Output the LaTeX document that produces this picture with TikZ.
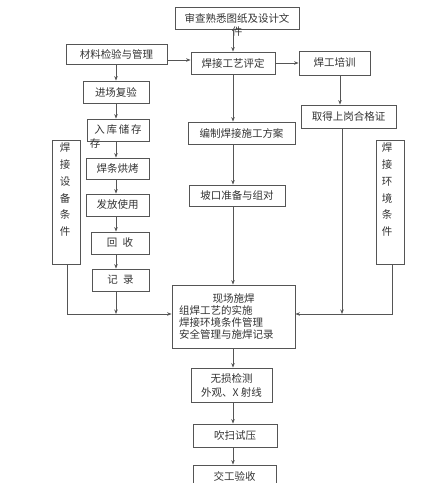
\documentclass[tikz,border=0pt]{standalone}
\usepackage{fontspec}
\newfontfamily\cjk{Noto Sans CJK SC}
\usetikzlibrary{arrows.meta,calc}
\definecolor{ln}{HTML}{555555}
\definecolor{tx}{HTML}{333333}
\tikzset{
  box/.style={draw=ln, line width=0.8pt, rectangle, inner sep=0pt, text=tx,
    font=\cjk\fontsize{10.5}{12}\selectfont},
  lbl/.style={inner sep=0pt, text=tx, font=\cjk\fontsize{10.5}{12}\selectfont},
  arr/.style={draw=ln, line width=0.8pt, -{Stealth[length=4.5pt,width=3.5pt]}},
  ln/.style={draw=ln, line width=0.8pt},
}
\begin{document}
\begin{tikzpicture}[x=1pt,y=-1pt]
\useasboundingbox (0,0) rectangle (448,483);
% nodes
\node[box, minimum width=124pt, minimum height=22pt] (top) at (237,18) {审查熟悉图纸及设计文};
\node[lbl] (topx) at (237,32) {件};
\node[box, minimum width=101pt, minimum height=20pt] (mat) at (116.5,54) {材料检验与管理};
\node[box, minimum width=84pt, minimum height=22pt] (hj) at (233,63) {焊接工艺评定};
\node[box, minimum width=71pt, minimum height=24pt] (hg) at (334.5,63) {焊工培训};
\node[box, minimum width=95pt, minimum height=23pt] (qd) at (348.5,116.5) {取得上岗合格证};
\node[box, minimum width=66pt, minimum height=22pt] (jc) at (116,92) {进场复验};
\node[box, minimum width=62pt, minimum height=22pt] (rk) at (118,130) {入\,库\,储\,存};
\node[lbl] (rkx) at (95,144) {存};
\node[box, minimum width=107pt, minimum height=22pt] (bz) at (241.5,133) {编制焊接施工方案};
\node[box, minimum width=28pt, minimum height=124pt] (sb) at (66,202) {};
\node[lbl, anchor=north, align=center, font=\cjk\fontsize{10.5}{16.7}\selectfont] (sbt) at (65,143) {焊\\接\\设\\备\\条\\件};
\node[box, minimum width=28pt, minimum height=124pt] (hk) at (390,202) {};
\node[lbl, anchor=north, align=center, font=\cjk\fontsize{10.5}{16.7}\selectfont] (hkt) at (387,143) {焊\\接\\环\\境\\条\\件};
\node[box, minimum width=63pt, minimum height=21pt] (hc) at (117.5,168.5) {焊条烘烤};
\node[box, minimum width=63pt, minimum height=22pt] (ff) at (117.5,205) {发放使用};
\node[box, minimum width=58pt, minimum height=22pt] (hs) at (120,243) {回\enspace 收};
\node[box, minimum width=57pt, minimum height=22pt] (jl) at (120.5,280) {记\enspace 录};
\node[box, minimum width=96pt, minimum height=21pt] (pk) at (237,195.5) {坡口准备与组对};
\node[box, minimum width=123pt, minimum height=63pt, text width=109pt, inner xsep=7pt, align=left,
  font=\cjk\fontsize{10.5}{11.7}\selectfont] (xc) at (233.5,316.5)
  {\makebox[109pt][c]{现场施焊}\\组焊工艺的实施\\焊接环境条件管理\\安全管理与施焊记录\\[3pt]};
\node[box, minimum width=81pt, minimum height=34pt, align=center,
  font=\cjk\fontsize{10.5}{14}\selectfont] (ws) at (231.5,385) {无损检测\\外观、X 射线};
\node[box, minimum width=84pt, minimum height=23pt] (cs) at (235,435.5) {吹扫试压};
\node[box, minimum width=83pt, minimum height=22pt] (jg) at (234.5,476) {交工验收};
% columns
\coordinate (colL) at (116,0);
\coordinate (colM) at (233,0);
\coordinate (hline) at (0,314);
% connectors
\draw[arr] (colM |- top.south) -- (colM |- hj.north);
\draw[arr] ([yshift=-6pt]mat.east) -- ([yshift=-6pt]mat.east -| hj.west);
\draw[arr] (hj.east) -- (hj.east -| hg.west);
\draw[arr] ([xshift=5.5pt]hg.south) -- ([xshift=5.5pt]hg.south |- qd.north);
\draw[arr] (colL |- mat.south) -- (colL |- jc.north);
\draw[arr] (colL |- jc.south) -- (colL |- rk.north);
\draw[arr] (colL |- rk.south) -- (colL |- hc.north);
\draw[arr] (colL |- hc.south) -- (colL |- ff.north);
\draw[arr] (colL |- ff.south) -- (colL |- hs.north);
\draw[arr] (colL |- hs.south) -- (colL |- jl.north);
\draw[arr] (colL |- jl.south) -- (colL |- hline);
\draw[arr] (colM |- hj.south) -- (colM |- bz.north);
\draw[arr] (colM |- bz.south) -- (colM |- pk.north);
\draw[arr] (colM |- pk.south) -- (colM |- xc.north);
\draw[arr] ([xshift=1pt]sb.south) |- (xc.west |- hline);
\draw[arr] ([xshift=2pt]hk.south) |- (xc.east |- hline);
\draw[arr] ([xshift=-6.5pt]qd.south) -- ([xshift=-6.5pt]qd.south |- hline);
\draw[arr] (colM |- xc.south) -- (colM |- ws.north);
\draw[arr] (colM |- ws.south) -- (colM |- cs.north);
\draw[arr] (colM |- cs.south) -- (colM |- jg.north);
\end{tikzpicture}
\end{document}
